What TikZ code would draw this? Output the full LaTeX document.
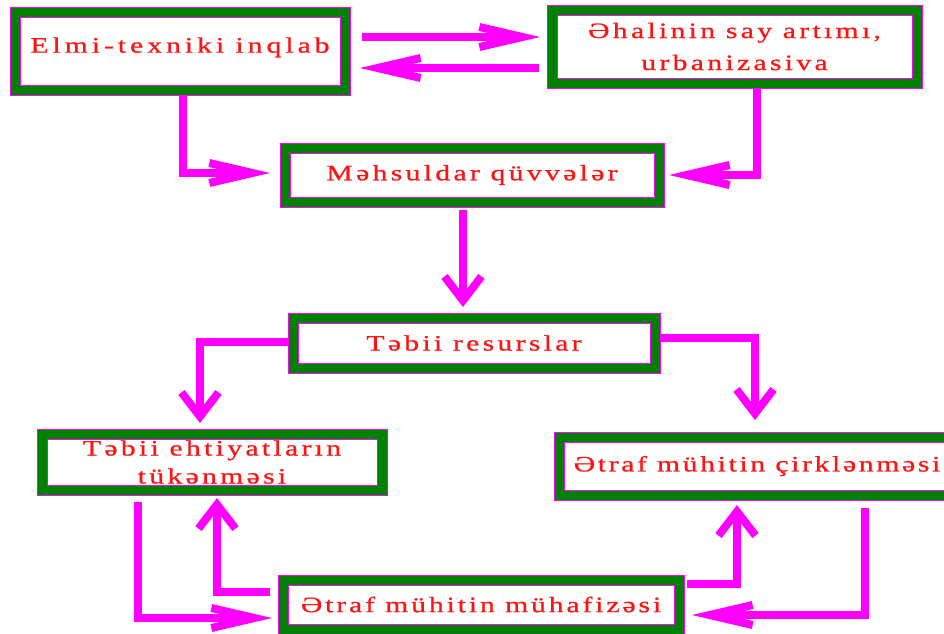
\documentclass[tikz,border=0pt]{standalone}
\usepackage{fontspec}
\setmainfont{Liberation Serif}[LetterSpace=15,FakeStretch=1.35,FakeBold=0.8]
\usetikzlibrary{arrows.meta}
\definecolor{bgreen}{RGB}{0,128,0}
\definecolor{mag}{RGB}{255,0,255}
\definecolor{tred}{RGB}{255,20,20}
\begin{document}
\begin{tikzpicture}[x=1pt,y=-1pt,
  box/.style={draw=bgreen, line width=9pt,
    preaction={fill=white, draw=mag, line width=11pt},
    outer sep=5pt, inner sep=0pt, text=tred, align=center,
    font=\fontsize{22}{32}\selectfont},
  conn/.style={draw=mag, line width=8pt},
  htip/.style={-{Straight Barb[length=43pt,width=20pt]}},
  vtip/.style={-{Straight Barb[length=24pt,width=37pt]}}]
\useasboundingbox[fill=white] (0,0) rectangle (944,633);
\clip (0,0) rectangle (944,633);

\node[box, minimum width=330pt, minimum height=78pt] (b1) at (180,51) {\addfontfeature{LetterSpace=18}\raisebox{12pt}{Elmi-texniki inqlab}};
\node[box, minimum width=365pt, minimum height=73pt] (b2) at (734.5,46.5) {Əhalinin say artımı,\\urbanizasiva};
\node[box, minimum width=374pt, minimum height=54pt] (b3) at (472,175) {Məhsuldar qüvvələr};
\node[box, minimum width=362pt, minimum height=50pt] (b4) at (474,343) {Təbii resurslar};
\node[box, minimum width=340pt, minimum height=56pt] (b5) at (212,462) {Təbii ehtiyatların\\[-4pt]tükənməsi};
\node[box, minimum width=396pt, minimum height=58pt] (b6) at (757,466) {\addfontfeature{LetterSpace=12}Ətraf mühitin çirklənməsi};
\node[box, minimum width=396pt, minimum height=49pt] (b7) at (481,604.5) {\addfontfeature{LetterSpace=13}Ətraf mühitin mühafizəsi};

\draw[conn,htip,shorten <=12pt,shorten >=7pt] (b1.east |- 0,37) -- (b2.west |- 0,37);
\draw[conn,htip,shorten <=8pt,shorten >=10pt] (b2.west |- 0,68) -- (b1.east |- 0,68);
\draw[conn,htip,shorten >=10pt] (b1.south -| 183,0) |- (b3.west |- 0,173);
\draw[conn,htip,shorten >=5pt] (b2.south -| 757,0) |- (b3.east |- 0,175);
\draw[conn,vtip,shorten <=3pt,shorten >=6pt] (b3.south -| 463,0) -- (b4.north -| 463,0);
\draw[conn,vtip,shorten >=6pt] (b4.west |- 0,342) -| (b5.north -| 200,0);
\draw[conn,vtip,shorten >=12pt] (b4.east |- 0,338) -| (b6.north -| 755,0);
\draw[conn,htip,shorten <=7pt,shorten >=6pt] (b5.south -| 138,0) |- (b7.west |- 0,618);
\draw[conn,vtip,shorten <=8pt,shorten >=3pt] (b7.west |- 0,592) -| (b5.south -| 217,0);
\draw[conn,vtip,shorten <=3pt,shorten >=5pt] (b7.east |- 0,584) -| (b6.south -| 737,0);
\draw[conn,htip,shorten <=8pt,shorten >=8pt] (b6.south -| 865,0) |- (b7.east |- 0,615);
\end{tikzpicture}
\end{document}
